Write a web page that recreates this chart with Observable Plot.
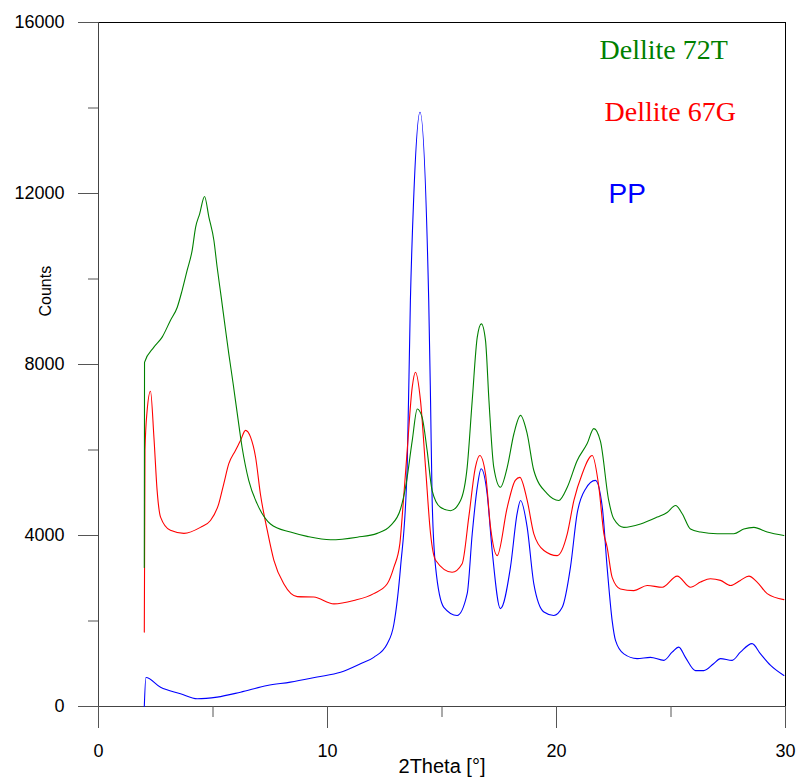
<!DOCTYPE html>
<html>
<head>
<meta charset="utf-8">
<script src="https://cdn.jsdelivr.net/npm/d3@7"></script>
<script src="https://cdn.jsdelivr.net/npm/@observablehq/plot@0.6"></script>
<style>
  html, body { margin: 0; padding: 0; background: #ffffff; }
  #chart svg { display: block; }
</style>
</head>
<body>
<div id="chart"></div>
<script>
// ---- Data ----
const seriesNames = ["Dellite 72T", "Dellite 67G", "PP"];
const seriesColors = ["#008000", "#ff0000", "#0000ff"];

const theta72T = [2.0, 2.01, 2.42, 2.78, 3.14, 3.44, 3.65, 3.87, 4.09, 4.24, 4.42, 4.63, 4.82, 5.04, 5.18, 5.36, 5.55, 5.69, 5.88, 6.06, 6.27, 6.56, 6.93, 7.51, 8.38, 9.11, 10.13, 11.3, 12.17, 12.75, 13.19, 13.41, 13.7, 13.92, 14.13, 14.35, 14.57, 14.93, 15.37, 15.81, 16.1, 16.32, 16.54, 16.72, 16.9, 17.05, 17.26, 17.55, 17.85, 18.14, 18.43, 18.72, 19.01, 19.59, 20.1, 20.47, 20.9, 21.34, 21.63, 21.92, 22.28, 22.5, 22.94, 23.67, 24.4, 24.83, 25.2, 25.49, 25.85, 26.29, 27.02, 27.74, 28.18, 28.62, 29.2, 29.93];
const counts72T = [3250, 8050, 8405, 8640, 9030, 9340, 9730, 10200, 10670, 11210, 11530, 11930, 11450, 10900, 10280, 9570, 8800, 8250, 7550, 6850, 6065, 5290, 4740, 4270, 4080, 3980, 3900, 3960, 4050, 4230, 4620, 5130, 6220, 6960, 6770, 5990, 5050, 4660, 4580, 4820, 5600, 7160, 8640, 8950, 8560, 7160, 5600, 5130, 5600, 6380, 6810, 6380, 5520, 4980, 4820, 5130, 5750, 6150, 6500, 6200, 4820, 4390, 4190, 4270, 4430, 4540, 4700, 4510, 4150, 4080, 4040, 4040, 4150, 4190, 4080, 4000];

const theta67G = [2.0, 2.03, 2.12, 2.27, 2.42, 2.56, 2.71, 3.14, 3.73, 4.45, 4.89, 5.25, 5.47, 5.69, 5.98, 6.2, 6.42, 6.64, 6.86, 7.07, 7.37, 7.66, 8.09, 8.68, 9.4, 10.28, 11.15, 12.02, 12.61, 12.9, 13.16, 13.26, 13.48, 13.7, 13.84, 14.06, 14.28, 14.5, 14.72, 15.44, 15.88, 16.17, 16.46, 16.65, 16.9, 17.12, 17.41, 17.85, 18.2, 18.4, 18.72, 19.01, 19.45, 20.03, 20.47, 20.76, 21.12, 21.56, 21.85, 22.07, 22.21, 22.43, 22.79, 23.38, 23.96, 24.62, 25.27, 25.85, 26.29, 26.72, 27.16, 27.6, 28.03, 28.4, 28.76, 29.2, 29.93];
const counts67G = [1740, 6000, 6900, 7376, 6300, 5050, 4430, 4120, 4050, 4190, 4350, 4740, 5210, 5680, 5990, 6220, 6460, 6300, 5830, 4970, 4120, 3420, 2870, 2570, 2560, 2400, 2480, 2640, 2870, 3260, 3810, 4430, 5990, 7470, 7820, 7160, 5600, 4040, 3420, 3140, 3340, 4430, 5600, 5870, 5440, 4190, 3530, 4660, 5290, 5360, 4820, 4040, 3650, 3530, 4040, 4820, 5440, 5870, 5130, 4040, 3730, 3020, 2750, 2710, 2830, 2790, 3050, 2790, 2910, 2990, 2950, 2830, 2950, 3050, 2910, 2640, 2500];

const thetaPP = [2.0, 2.07, 2.71, 3.58, 4.31, 5.18, 6.2, 7.37, 8.38, 9.55, 10.57, 11.44, 12.02, 12.61, 12.9, 13.19, 13.48, 13.62, 13.76, 14.04, 14.42, 14.5, 14.57, 14.72, 15.08, 15.66, 16.1, 16.32, 16.54, 16.71, 16.97, 17.19, 17.55, 17.99, 18.28, 18.43, 18.72, 19.01, 19.45, 19.88, 20.25, 20.61, 20.9, 21.27, 21.7, 22.0, 22.21, 22.43, 22.58, 22.94, 23.52, 24.1, 24.69, 25.05, 25.34, 25.63, 26.07, 26.43, 26.86, 27.16, 27.67, 28.03, 28.54, 28.91, 29.35, 29.93];
const countsPP = [0, 680, 450, 300, 180, 220, 335, 490, 570, 690, 800, 1000, 1150, 1470, 1930, 3260, 5600, 9500, 11840, 13900, 9500, 7160, 4820, 3260, 2320, 2130, 2640, 4040, 5130, 5560, 4980, 3650, 2290, 3260, 4510, 4820, 4190, 2870, 2210, 2130, 2320, 3260, 4510, 5090, 5290, 4660, 3260, 2010, 1540, 1230, 1120, 1150, 1080, 1270, 1390, 1150, 840, 840, 1000, 1120, 1080, 1270, 1470, 1230, 960, 725];

const majorYTicks = [0, 4000, 8000, 12000, 16000];
const minorYTicks = [2000, 6000, 10000, 14000];
const majorXTicks = [0, 10, 20, 30];
const minorXTicks = [5, 15, 25];
const xTitle = "2Theta [°]";
const yTitle = "Counts";

// ---- Build table ----
const allTheta = [theta72T, theta67G, thetaPP];
const allCounts = [counts72T, counts67G, countsPP];
const rows = [];
seriesNames.forEach((name, i) => {
  allTheta[i].forEach((t, j) => rows.push({series: name, x: t, y: allCounts[i][j]}));
});

const sans = "'Liberation Sans', Arial, sans-serif";
const serif = "'Liberation Serif', 'Times New Roman', serif";

const chart = Plot.plot({
  width: 797,
  height: 783,
  marginLeft: 98,
  marginRight: 12,
  marginTop: 22,
  marginBottom: 77,
  style: {fontFamily: sans, background: "#ffffff", color: "black"},
  x: {domain: [0, 30]},
  y: {domain: [0, 16000]},
  marks: [
    // frame
    Plot.ruleY([16000], {stroke: "black"}),
    Plot.ruleX([30], {stroke: "black"}),
    Plot.ruleX([0], {stroke: "#444"}),
    Plot.ruleY([0], {stroke: "#444"}),
    // axes
    Plot.axisY(majorYTicks, {tickSize: 20, tickPadding: 14, fontSize: 18, tickFormat: d3.format("d"), stroke: "#555", fill: "black", label: null}),
    Plot.axisY(minorYTicks, {tickSize: 10, tickFormat: () => "", stroke: "#555", label: null}),
    Plot.axisX(majorXTicks, {tickSize: 22, tickPadding: 16, fontSize: 18, tickFormat: d3.format("d"), stroke: "#555", fill: "black", label: null}),
    Plot.axisX(minorXTicks, {tickSize: 11, tickFormat: () => "", stroke: "#555", label: null}),
    // series
    ...seriesNames.slice().reverse().map((name) =>
      Plot.line(rows.filter(d => d.series === name), {
        x: "x", y: "y",
        curve: "monotone-x",
        stroke: seriesColors[seriesNames.indexOf(name)],
        strokeWidth: 1.1
      })
    ),
    // axis titles
    Plot.text([yTitle], {frameAnchor: "left", dx: -53, dy: -48, rotate: -90, fontSize: 16, fill: "black"}),
    Plot.text([xTitle], {frameAnchor: "bottom", dy: 66, fontSize: 20, fill: "black"}),
    // legend labels
    Plot.text([seriesNames[0]], {frameAnchor: "top-left", textAnchor: "start", lineAnchor: "bottom", dx: 501, dy: 36, fontSize: 28, fontFamily: serif, fill: seriesColors[0]}),
    Plot.text([seriesNames[1]], {frameAnchor: "top-left", textAnchor: "start", lineAnchor: "bottom", dx: 506, dy: 98, fontSize: 28, fontFamily: serif, fill: seriesColors[1]}),
    Plot.text([seriesNames[2]], {frameAnchor: "top-left", textAnchor: "start", lineAnchor: "bottom", dx: 510, dy: 180, fontSize: 28, fontFamily: sans, fill: seriesColors[2]})
  ]
});
document.getElementById("chart").appendChild(chart);
</script>
</body>
</html>
